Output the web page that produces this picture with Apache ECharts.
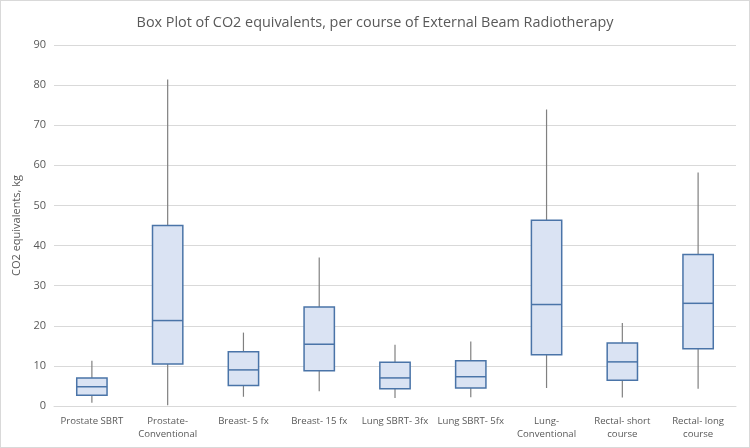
<!DOCTYPE html>
<html><head><meta charset="utf-8">
<script src="https://cdn.jsdelivr.net/npm/echarts@6/dist/echarts.min.js"></script>
<style>html,body{margin:0;padding:0;background:#fff}#c{width:750px;height:448px;box-sizing:border-box;border:1px solid #d9d9d9}</style>
</head><body><div id="c"></div>
<script>
const categories = ['Prostate SBRT','Prostate-\nConventional','Breast- 5 fx','Breast- 15 fx','Lung SBRT- 3fx','Lung SBRT- 5fx','Lung-\nConventional','Rectal- short\ncourse','Rectal- long\ncourse'];
const mins    = [0.8, 0.2, 2.3, 3.7, 2.0, 2.2, 4.5, 2.1, 4.3];
const q1s     = [2.7, 10.5, 5.1, 8.8, 4.3, 4.5, 12.8, 6.4, 14.3];
const medians = [4.8, 21.3, 9.0, 15.4, 7.0, 7.3, 25.3, 11.0, 25.6];
const q3s     = [7.0, 45.0, 13.5, 24.7, 10.9, 11.3, 46.3, 15.7, 37.8];
const maxs    = [11.3, 81.4, 18.3, 37.0, 15.3, 16.1, 73.9, 20.7, 58.2];
const yTicks  = [0,10,20,30,40,50,60,70,80,90];

const data = categories.map((c,i)=>[i, mins[i], q1s[i], medians[i], q3s[i], maxs[i]]);
const chart = echarts.init(document.getElementById('c'));
const txt = '#595959';
chart.setOption({
  animation:false,
  title:{text:'Box Plot of CO2 equivalents, per course of External Beam Radiotherapy',left:'center',top:10,
    textStyle:{fontFamily:'Open Sans',fontSize:14.4,fontWeight:'normal',color:txt}},
  grid:{left:53,right:13,top:44,bottom:41},
  xAxis:{type:'category',data:categories,axisTick:{show:false},
    axisLine:{lineStyle:{color:'#d9d9d9'}},
    axisLabel:{color:txt,fontFamily:'Open Sans',fontSize:9.6,margin:9,lineHeight:13,interval:0}},
  yAxis:{type:'value',min:yTicks[0],max:yTicks[yTicks.length-1],interval:10,
    name:'CO2 equivalents, kg',nameLocation:'middle',nameGap:30,
    nameTextStyle:{color:txt,fontFamily:'Open Sans',fontSize:11},
    axisLine:{show:false},axisTick:{show:false},
    splitLine:{lineStyle:{color:'#d9d9d9'}},
    axisLabel:{color:txt,fontFamily:'Open Sans',fontSize:11,margin:8}},
  series:[{
    type:'custom',
    encode:{x:0,y:[1,2,3,4,5]},
    data:data,
    renderItem:function(params,api){
      const x = api.value(0);
      const pMin = api.coord([x, api.value(1)]);
      const pQ1 = api.coord([x, api.value(2)]);
      const pMed = api.coord([x, api.value(3)]);
      const pQ3 = api.coord([x, api.value(4)]);
      const pMax = api.coord([x, api.value(5)]);
      const bw = api.size([1,0])[0]*0.4;
      const cx = pMin[0];
      return {type:'group',children:[
        {type:'line',shape:{x1:cx,y1:pMin[1],x2:cx,y2:pMax[1]},style:{stroke:'#808080',lineWidth:1.2}},
        {type:'rect',shape:{x:cx-bw/2,y:pQ3[1],width:bw,height:pQ1[1]-pQ3[1]},style:{fill:'#dae3f3',stroke:'#4a74a8',lineWidth:1.5}},
        {type:'line',shape:{x1:cx-bw/2,y1:pMed[1],x2:cx+bw/2,y2:pMed[1]},style:{stroke:'#4a74a8',lineWidth:1.5}}
      ]};
    }
  }]
});
</script></body></html>
